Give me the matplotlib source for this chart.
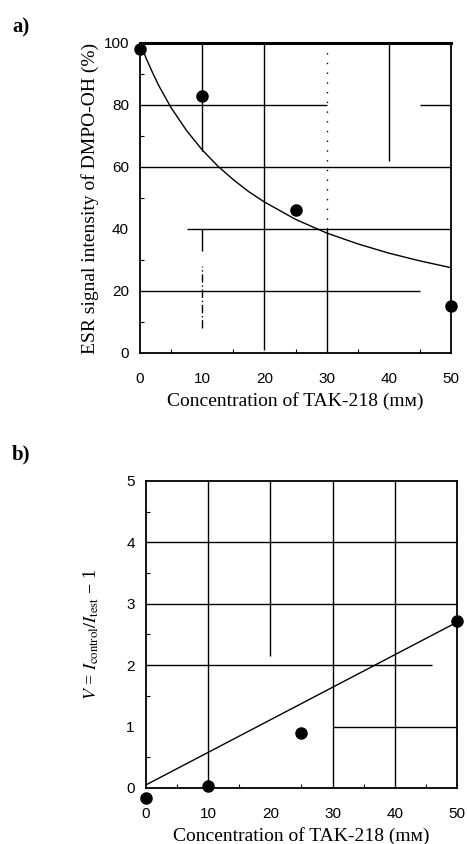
import matplotlib
matplotlib.use("Agg")
import matplotlib.pyplot as plt
from matplotlib.ticker import MultipleLocator

plt.rcParams["mathtext.fontset"] = "stix"

# panel a: ESR signal intensity vs concentration
conc_a = [0, 10, 25, 50]
esr_a = [98, 83, 46, 15]
# fitted curve
curve_x = [0, 1, 2, 3, 5, 7.5, 10, 12.5, 15, 17.5, 20, 25, 30, 35, 40, 45, 50]
curve_y = [100, 95.0, 90.5, 86.3, 79.1, 71.7, 65.5, 60.3, 55.9, 52.0, 48.7, 43.1, 38.7, 35.2, 32.2, 29.7, 27.5]

# panel b: V = Icontrol/Itest - 1
conc_b = [0, 10, 25, 50]
v_b = [-0.17, 0.03, 0.9, 2.72]
line_x = [0, 50]
line_y = [0.05, 2.7]

serif = ["Liberation Serif", "DejaVu Serif", "DejaVu Sans"]
sans = ["Liberation Sans", "DejaVu Sans"]

fig = plt.figure(figsize=(4.67, 8.44), dpi=100)
ax1 = fig.add_axes([0.2998, 0.5818, 0.666, 0.3673])
ax2 = fig.add_axes([0.3126, 0.0664, 0.666, 0.3637])


def style(ax, xmin, xmaj, ymaj, ymin):
    ax.xaxis.set_major_locator(MultipleLocator(xmaj))
    ax.xaxis.set_minor_locator(MultipleLocator(xmin))
    ax.yaxis.set_major_locator(MultipleLocator(ymaj))
    ax.yaxis.set_minor_locator(MultipleLocator(ymin))
    ax.tick_params(which="both", direction="in", top=False, right=False)
    ax.tick_params(which="major", length=0, labelsize=11)
    ax.tick_params(axis="x", which="major", pad=14)
    ax.tick_params(axis="y", which="major", pad=8)
    ax.tick_params(which="minor", length=3, width=0.8)
    for lab in ax.get_xticklabels() + ax.get_yticklabels():
        lab.set_family(sans)
    for s in ax.spines.values():
        s.set_linewidth(1.3)


# ---- panel a ----
ax1.set_xlim(0, 50)
ax1.set_ylim(0, 100)
style(ax1, 5, 10, 20, 10)
ax1.spines["top"].set_linewidth(2.2)
# grid segments (partly broken as in the scan)
ax1.hlines(80, 0, 30, color="black", lw=1)
ax1.hlines(80, 45, 50, color="black", lw=1)
ax1.hlines(60, 0, 50, color="black", lw=1)
ax1.hlines(40, 7.5, 50, color="black", lw=1)
ax1.hlines(20, 0, 45, color="black", lw=1)
ax1.vlines(10, 65, 100, color="black", lw=1)
ax1.vlines(10, 33, 40, color="black", lw=1)
ax1.vlines(10, 8, 28, color="black", lw=1, linestyles=(0, (6, 2, 1, 2)))
ax1.vlines(20, 1, 100, color="black", lw=1)
ax1.vlines(30, 0, 40, color="black", lw=1)
ax1.vlines(30, 40, 100, color="black", lw=1, linestyles=(0, (1, 6)))
ax1.vlines(40, 62, 100, color="black", lw=1)
ax1.plot(curve_x, curve_y, color="black", lw=1)
ax1.plot(conc_a, esr_a, "o", color="black", ms=8, clip_on=False, zorder=5)
ax1.set_xlabel("Concentration of TAK-218 (mᴍ)", family=serif, fontsize=14, labelpad=4)
ax1.set_ylabel("ESR signal intensity of DMPO-OH (%)", family=serif, fontsize=14, labelpad=3)
fig.text(0.026, 0.962, "a)", family=serif, fontsize=15, fontweight="bold")

# ---- panel b ----
ax2.set_xlim(0, 50)
ax2.set_ylim(0, 5)
style(ax2, 5, 10, 1, 0.5)
ax2.hlines(4, 0, 50, color="black", lw=1)
ax2.hlines(3, 0, 50, color="black", lw=1)
ax2.hlines(2, 0, 46, color="black", lw=1)
ax2.hlines(1, 30, 50, color="black", lw=1)
ax2.vlines(10, 0, 5, color="black", lw=1)
ax2.vlines(20, 2.15, 5, color="black", lw=1)
ax2.vlines(30, 0, 5, color="black", lw=1)
ax2.vlines(40, 0, 5, color="black", lw=1)
ax2.plot(line_x, line_y, color="black", lw=1)
ax2.plot(conc_b, v_b, "o", color="black", ms=8, clip_on=False, zorder=5)
ax2.set_xlabel("Concentration of TAK-218 (mᴍ)", family=serif, fontsize=14, labelpad=4)
ax2.set_ylabel(r"$V$ = $I_{\rm control}/I_{\rm test}$ − 1", family=serif, fontsize=13, labelpad=18)
fig.text(0.026, 0.455, "b)", family=serif, fontsize=15, fontweight="bold")

fig.savefig("out.png", dpi=100)
